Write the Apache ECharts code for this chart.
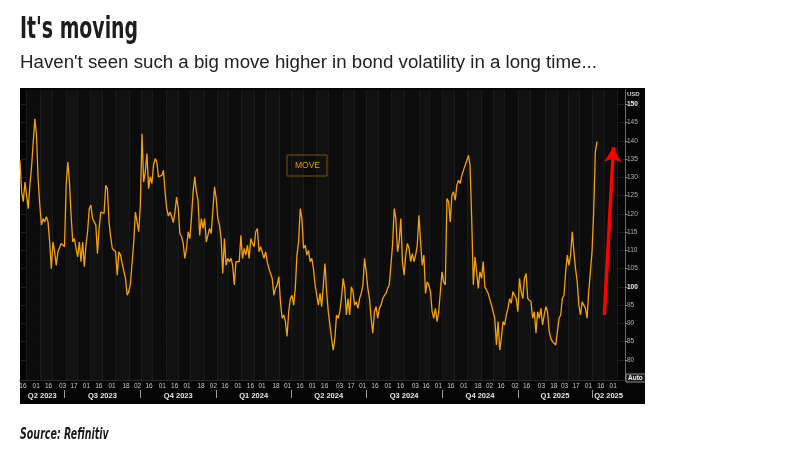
<!DOCTYPE html>
<html>
<head>
<meta charset="utf-8">
<script src="https://cdn.jsdelivr.net/npm/echarts@6/dist/echarts.min.js"></script>
<style>
html,body{margin:0;padding:0;background:#fff;}
#chart{width:802px;height:467px;}
</style>
</head>
<body>
<div id="chart"></div>
<script>
// MOVE index, one reading every 2 calendar days from startDate
var startDate = '2023-05-08';
var stepDays = 2;
var moveValues = [
  134.6,126.0,123.3,128.7,125.1,121.4,127.8,132.8,132.8,146.0,
  141.5,129.6,122.4,116.9,118.7,117.8,119.2,117.8,112.3,105.0,
  112.3,109.6,105.9,109.6,110.0,111.9,112.3,111.0,127.8,134.2,
  128.7,119.6,112.3,113.2,110.5,108.2,112.3,106.9,112.3,105.5,
  111.4,115.1,121.4,122.4,118.7,117.8,
  116.9,109.1,116.0,120.5,121.0,
  120.1,127.8,126.9,117.8,113.7,110.5,110.0,109.6,103.2,109.6,
  108.7,106.4,106.9,102.3,97.7,98.7,100.9,100.5,112.3,120.5,
  120.5,115.1,122.4,141.9,128.7,131.5,136.5,126.9,130.1,128.3,
  133.3,135.1,134.2,130.1,130.5,130.5,131.9,126.0,121.4,119.4,
  120.5,119.2,117.6,120.5,124.6,121.4,114.6,113.7,111.9,107.8,
  110.5,115.1,113.2,118.7,126.0,130.1,126.0,123.7,114.1,118.7,
  116.0,118.7,112.3,112.3,116.0,114.6,115.1,127.4,124.2,118.7,
  116.9,113.2,103.7,113.2,105.9,107.8,106.9,107.8,105.9,100.5,
  106.9,106.9,
  106.9,114.1,107.8,110.5,108.7,111.4,107.8,113.2,111.9,
  111.0,115.1,116.0,109.6,111.0,110.5,107.8,109.6,106.9,105.0,
  105.5,102.3,97.7,99.6,100.5,102.8,95.9,91.4,92.3,90.5,
  86.4,93.2,96.8,97.7,95.0,99.6,108.7,112.3,121.4,118.7,
  110.5,111.4,108.7,110.0,106.9,107.8,105.0,100.5,97.7,95.0,
  98.2,94.6,100.5,106.4,98.7,93.2,89.6,85.9,82.7,85.9,
  92.3,91.4,93.2,96.8,102.3,99.6,92.3,96.8,92.3,100.0,
  98.7,95.0,95.9,94.1,96.8,98.2,100.5,107.8,104.1,99.6,
  96.8,91.4,87.3,93.2,94.6,91.4,94.1,95.0,96.8,97.6,
  98.2,99.6,100.5,100.5,111.4,121.4,118.7,109.6,112.3,118.7,106.9,
  103.2,108.7,111.9,110.5,106.9,109.1,106.9,108.7,111.4,119.6,
  112.3,105.9,108.7,98.2,101.4,100.5,98.7,93.2,91.4,94.1,
  90.5,93.2,98.7,104.1,101.4,100.5,124.2,123.3,117.8,125.1,
  126.0,123.7,127.8,129.2,128.3,130.5,131.9,133.3,134.6,136.0,
  133.3,118.7,100.5,108.2,104.1,99.6,104.1,102.3,106.9,100.0,
  99.6,98.2,97.7,95.0,95.0,91.4,84.1,90.5,82.7,85.9,
  90.5,89.6,92.3,94.1,96.8,95.5,98.7,97.7,96.8,93.2,
  102.3,98.7,96.8,102.3,103.7,96.8,96.4,
  95.9,91.4,93.2,87.3,93.2,91.4,94.1,89.6,92.3,94.6,
  93.2,87.8,85.9,85.0,84.5,84.1,87.8,91.4,92.3,96.8,
  97.7,104.1,108.7,105.9,108.7,115.1,109.6,105.0,101.4,95.0,
  92.3,95.9,95.0,94.1,91.4,98.7,104.1,109.6,120.5,136.9,139.8
];
var lastValue = 139.8;
var lastLabel = '139,8';

var axisStart = '2023-05-08';
var axisEnd = '2025-05-11';
var tickDates = [
  '2023-05-16','2023-06-01','2023-06-16','2023-07-03','2023-07-17','2023-08-01','2023-08-16',
  '2023-09-01','2023-09-18','2023-10-02','2023-10-16','2023-11-01','2023-11-16','2023-12-01',
  '2023-12-18','2024-01-02','2024-01-16','2024-02-01','2024-02-16','2024-03-01','2024-03-18',
  '2024-04-01','2024-04-16','2024-05-01','2024-05-16','2024-06-03','2024-06-17','2024-07-01',
  '2024-07-16','2024-08-01','2024-08-16','2024-09-03','2024-09-16','2024-10-01','2024-10-16',
  '2024-11-01','2024-11-18','2024-12-02','2024-12-16','2025-01-02','2025-01-16','2025-02-03',
  '2025-02-18','2025-03-03','2025-03-17','2025-04-01','2025-04-16','2025-05-01'
];
var quarterNames = ['Q2 2023','Q3 2023','Q4 2023','Q1 2024','Q2 2024','Q3 2024','Q4 2024','Q1 2025','Q2 2025'];
var quarterStarts = ['2023-04-01','2023-07-01','2023-10-01','2024-01-01','2024-04-01','2024-07-01',
  '2024-10-01','2025-01-01','2025-04-01','2025-07-01'];
var yTicks = [80,85,90,95,100,105,110,115,120,125,130,135,140,145,150];
var yBold = [100,150];

var arrowFrom = ['2025-04-16', 92.3];
var arrowTo = ['2025-04-27', 138.2];

var titleText = "It's moving";
var subtitleText = "Haven't seen such a big move higher in bond volatility in a long time...";
var sourceText = 'Source: Refinitiv';

function dayNum(s) {
  var p = s.split('-');
  return Date.UTC(+p[0], +p[1] - 1, +p[2]) / 86400000;
}

var x0 = dayNum(axisStart), x1 = dayNum(axisEnd);
var seriesData = moveValues.map(function (v, i) {
  return [dayNum(startDate) + i * stepDays, v];
});
var tickDays = tickDates.map(dayNum);
var tickLabel = {};
tickDates.forEach(function (d) { tickLabel[dayNum(d)] = d.slice(8, 10); });

var qMids = [], qLabel = {}, qEdges = [];
for (var i = 0; i < quarterNames.length; i++) {
  var a = Math.max(dayNum(quarterStarts[i]), x0);
  var b = Math.min(dayNum(quarterStarts[i + 1]), x1);
  var m = (a + b) / 2;
  qMids.push(m);
  qLabel[m.toFixed(2)] = quarterNames[i];
  if (i > 0) qEdges.push(dayNum(quarterStarts[i]));
}

var chart = echarts.init(document.getElementById('chart'));
var condensed = "'DejaVu Sans Condensed','DejaVu Sans',sans-serif";
var small = "'Liberation Sans',Arial,sans-serif";

chart.setOption({
  animation: false,
  backgroundColor: '#ffffff',
  title: [
    { text: subtitleText, left: 20, top: 53, padding: 0,
      textStyle: { fontFamily: small, fontWeight: 'normal', fontSize: 18.7, color: '#222' } }
  ],
  legend: {
    data: ['MOVE'], left: 287, top: 155, itemWidth: 0, itemHeight: 0,
    padding: [6, 7, 6, 2], borderColor: '#7a5206', borderWidth: 1,
    textStyle: { color: '#e09a12', fontSize: 8.5, fontFamily: small }
  },
  grid: { left: 20, right: 177, top: 90, bottom: 87, containLabel: false },
  graphic: [
    { type: 'text', x: 20, y: 15, scaleX: 0.7, z: 10,
      style: { text: titleText, fontFamily: condensed, fontWeight: 'bold', fontSize: 30, fill: '#1d1d1d', verticalAlign: 'top' } },
    { type: 'text', x: 20, y: 427, scaleX: 0.66, z: 10,
      style: { text: sourceText, fontFamily: condensed, fontWeight: 'bold', fontStyle: 'italic', fontSize: 16, fill: '#1d1d1d', verticalAlign: 'top' } },
    { type: 'rect', z: -10, shape: { x: 20, y: 88, width: 625, height: 316 }, style: { fill: '#050505' } },
    { type: 'text', x: 627, y: 91, z: 10, style: { text: 'USD', fontSize: 6, fontWeight: 'bold', fill: '#cfcfcf', fontFamily: small } },
    { type: 'rect', x: 626, y: 374, z: 10, shape: { width: 24, height: 8 }, style: { fill: '#1a1a1a', stroke: '#8a8a8a', lineWidth: 1 } },
    { type: 'text', x: 628, y: 375, z: 11, style: { text: 'Auto', fontSize: 6.5, fontWeight: 'bold', fill: '#eee', fontFamily: small } },
    { type: 'rect', x: 645, y: 80, z: 100, shape: { width: 160, height: 330 }, style: { fill: '#ffffff' } }
  ],
  xAxis: [
    {
      type: 'value', min: x0, max: x1,
      axisLine: { show: true, lineStyle: { color: '#2a2a2a' } },
      axisTick: { show: false, customValues: tickDays },
      axisLabel: {
        customValues: tickDays, align: 'right', margin: 3,
        fontSize: 6.5, color: '#c8c8c8', fontFamily: small,
        formatter: function (v) { return tickLabel[v] || ''; }
      },
      splitLine: { show: true, lineStyle: { color: '#1b1b1b', width: 1 } },
      splitArea: { show: true, areaStyle: { color: ['#0c0c0c', '#111111'] } }
    },
    {
      type: 'value', min: x0, max: x1, position: 'bottom', offset: 10,
      axisLine: { show: false },
      axisTick: { show: true, customValues: qEdges, length: 8, lineStyle: { color: '#9a9a9a' } },
      axisLabel: {
        customValues: qMids, margin: 2, fontSize: 7.5, fontWeight: 'bold', color: '#e6e6e6', fontFamily: small,
        formatter: function (v) { return qLabel[v.toFixed(2)] || ''; }
      },
      splitLine: { show: false }
    }
  ],
  yAxis: {
    type: 'value', position: 'right', min: 74.5, max: 153.9,
    axisLine: { show: true, lineStyle: { color: '#6a6a6a' } },
    axisTick: { show: true, customValues: yTicks, length: 2.5, lineStyle: { color: '#8a8a8a' } },
    axisLabel: {
      customValues: yTicks, margin: 2, fontSize: 6.5, color: '#b4b4b4', fontFamily: small,
      formatter: function (v) { return yBold.indexOf(v) >= 0 ? '{b|' + v + '}' : String(v); },
      rich: { b: { fontSize: 6.5, fontWeight: 'bold', color: '#f0f0f0', fontFamily: small } }
    },
    splitLine: { show: true, lineStyle: { color: '#1d1d1d', width: 1 } }
  },
  series: [{
    name: 'MOVE', type: 'line', xAxisIndex: 0,
    data: seriesData, showSymbol: false, smooth: false,
    lineStyle: { color: '#f5a00c', width: 1.3 },
    itemStyle: { color: '#f5a00c' },
    markLine: {
      silent: true, animation: false,
      symbol: ['none', 'arrow'], symbolSize: [13, 15],
      data: [
        {
          yAxis: lastValue, symbol: 'none',
          lineStyle: { opacity: 0 },
          label: {
            show: true, position: 'end', distance: 1, formatter: lastLabel,
            backgroundColor: '#f5a00c', color: '#000', fontSize: 6.5, fontWeight: 'bold',
            padding: [1, 2, 1, 2], fontFamily: small
          }
        },
        [
          { coord: [dayNum(arrowFrom[0]), arrowFrom[1]], lineStyle: { color: '#ff0000', width: 3.5, type: 'solid' }, label: { show: false } },
          { coord: [dayNum(arrowTo[0]), arrowTo[1]] }
        ]
      ]
    }
  }]
});
</script>
</body>
</html>
